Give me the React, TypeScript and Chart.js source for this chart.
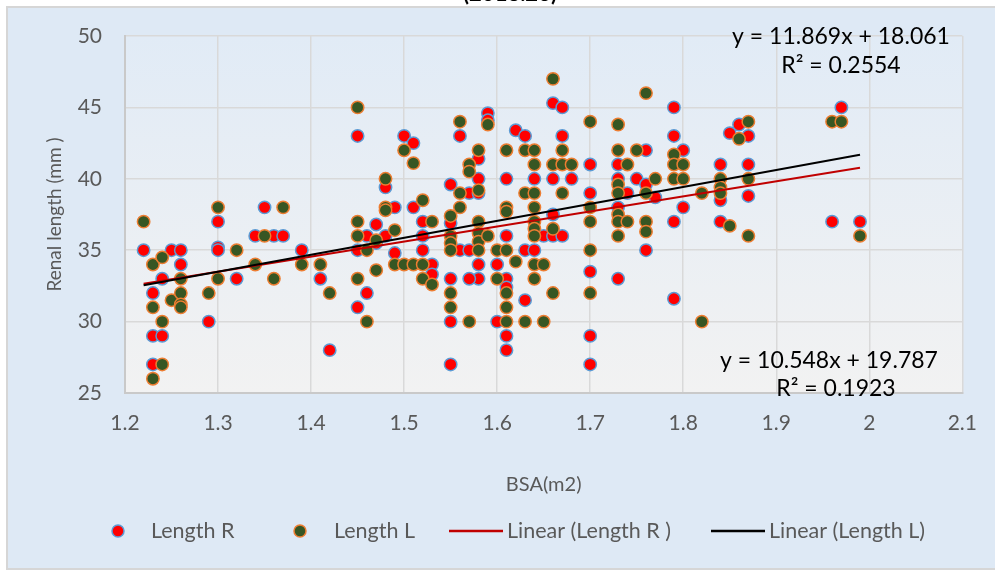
import React, { useEffect, useRef } from "react";
import { Chart, registerables } from "chart.js";

Chart.register(...registerables);

// ---------------- data ----------------
const bsaR = [
  1.22, 1.25, 1.26, 1.26, 1.24, 1.23, 1.23, 1.24, 1.23,
  1.3, 1.3, 1.3, 1.32, 1.35, 1.34, 1.36, 1.37, 1.29, 1.39,
  1.41, 1.42, 1.45, 1.45, 1.46, 1.46, 1.45, 1.47, 1.47, 1.48, 1.48, 1.49, 1.49,
  1.53, 1.5, 1.51, 1.51, 1.52, 1.52, 1.52, 1.53,
  1.55, 1.55, 1.56, 1.57, 1.56, 1.57, 1.58, 1.58, 1.58, 1.59, 1.59, 1.58, 1.58, 1.57, 1.55, 1.55, 1.55,
  1.61, 1.61, 1.6, 1.61, 1.61, 1.6, 1.61, 1.61, 1.62, 1.63, 1.64, 1.65, 1.66, 1.67, 1.66, 1.63, 1.64, 1.63,
  1.66, 1.67, 1.67, 1.66, 1.68, 1.7, 1.7, 1.7, 1.7, 1.7,
  1.79, 1.79, 1.76, 1.8, 1.73, 1.73, 1.75, 1.76, 1.74, 1.77, 1.73, 1.8, 1.79, 1.76, 1.73, 1.79,
  1.84, 1.87, 1.84, 1.84, 1.87, 1.85, 1.86, 1.87,
  1.97, 1.96, 1.99,
];
const lengthR = [
  35, 35, 35, 34, 33, 32, 29, 29, 27,
  37, 35.2, 35, 33, 38, 36, 36, 36, 30, 35,
  33, 28, 43, 35, 36, 32, 31, 36.8, 35.5, 36, 39.4, 38, 34.8,
  34, 43, 42.5, 38, 37, 36, 35, 33.3,
  39.6, 36.9, 35, 35, 43, 39, 41.4, 40, 39, 44.6, 44.1, 34, 33, 33, 33, 30, 27,
  40, 36, 34, 33, 32.4, 30, 29, 28, 43.4, 43, 40, 36, 36, 36, 37.5, 35, 35, 31.5,
  45.3, 45, 43, 40, 40, 41, 39, 33.5, 29, 27,
  45, 43, 42, 42, 41, 40, 40, 39.6, 39, 38.7, 38, 38, 37, 35, 33, 31.6,
  41, 41, 38.5, 37, 38.8, 43.2, 43.8, 43,
  45, 37, 37,
];

const bsaL = [
  1.22, 1.23, 1.24, 1.26, 1.23, 1.25, 1.26, 1.26, 1.26, 1.24, 1.24, 1.23,
  1.3, 1.3, 1.32, 1.37, 1.35, 1.34, 1.36, 1.29, 1.39,
  1.41, 1.42, 1.45, 1.45, 1.45, 1.46, 1.45, 1.46, 1.47, 1.47, 1.48, 1.48, 1.48, 1.49,
  1.49, 1.5, 1.51, 1.52, 1.5, 1.51, 1.52, 1.53, 1.52, 1.53,
  1.56, 1.55, 1.55, 1.55, 1.55, 1.56, 1.55, 1.55, 1.57, 1.56,
  1.57, 1.57, 1.58, 1.58, 1.59, 1.58, 1.58, 1.58, 1.58, 1.59,
  1.61, 1.61, 1.61, 1.6, 1.61, 1.6, 1.61, 1.61, 1.61,
  1.63, 1.64, 1.64, 1.63, 1.64, 1.64, 1.64, 1.64, 1.64, 1.66, 1.62, 1.64, 1.65, 1.64, 1.63, 1.65,
  1.66, 1.67, 1.66, 1.67, 1.68, 1.67, 1.66,
  1.7, 1.7, 1.7, 1.7, 1.7,
  1.76, 1.73, 1.73, 1.75, 1.79, 1.79, 1.8, 1.74, 1.73, 1.73, 1.77, 1.76, 1.79, 1.8, 1.73, 1.73, 1.74, 1.73, 1.76, 1.76, 1.82, 1.82,
  1.84, 1.84, 1.84, 1.85, 1.87, 1.87, 1.86, 1.87,
  1.96, 1.97, 1.99,
];
const lengthL = [
  37, 34, 34.5, 33, 31, 31.5, 32, 31.2, 31, 30, 27, 26,
  38, 33, 35, 38, 36, 34, 33, 32, 34,
  34, 32, 45, 37, 36, 35, 33, 30, 35.7, 33.6, 40, 38, 37.8, 36.4,
  34, 34, 34, 34, 42, 41.1, 38.5, 37, 33, 32.6,
  39, 37.4, 36, 35.5, 35, 38, 32, 31, 30, 44,
  41, 40.5, 42, 39.2, 43.8, 37, 36.2, 35.6, 35, 36,
  42, 38, 37.7, 35, 35, 33, 32, 31, 30,
  42, 42, 41, 39, 39, 38, 37, 36.5, 36, 36.5, 34.2, 34, 34, 33, 30, 30,
  47, 42, 41, 41, 41, 39, 32,
  44, 38, 37, 35, 32,
  46, 43.8, 42, 42, 41.7, 41, 41, 41, 39.6, 39, 40, 39, 40, 40, 37.5, 37, 37, 36, 37, 36.3, 30, 39,
  40, 39.4, 39, 36.7, 40, 36, 42.8, 44,
  44, 44, 36,
];

// Excel linear trendlines (as printed on the chart)
const trendR = { slope: 10.548, intercept: 19.787, r2: 0.1923 };
const trendL = { slope: 11.869, intercept: 18.061, r2: 0.2554 };

const seriesNames = ["Length R", "Length L", "Linear (Length R )", "Linear (Length L)"];
const xTitle = "BSA(m2)";
const yTitle = "Renal length (mm )";
const chartTitle = "(2018.23)";
const xMin = 1.2;
const xMax = 2.1;
const xStep = 0.1;
const yMin = 25;
const yMax = 50;
const yStep = 5;

const FONT = "Lato, 'Open Sans', sans-serif";
const TEXT_GREY = "#595959";

function trendPoints(xs: number[], t: { slope: number; intercept: number }) {
  const lo = Math.min(...xs);
  const hi = Math.max(...xs);
  return [
    { x: lo, y: t.slope * lo + t.intercept },
    { x: hi, y: t.slope * hi + t.intercept },
  ];
}

const decorPlugin = {
  id: "decor",
  beforeDraw(chart: any) {
    const { ctx, chartArea, width, height } = chart;
    ctx.save();
    ctx.fillStyle = "#ffffff";
    ctx.fillRect(0, 0, width, height);
    // outer chart box
    ctx.fillStyle = "#dee9f5";
    ctx.fillRect(7, 7, width, 562);
    ctx.strokeStyle = "#d6d6d6";
    ctx.lineWidth = 2;
    ctx.strokeRect(7, 7, width + 10, 562);
    // plot area gradient
    const g = ctx.createLinearGradient(0, chartArea.top, 0, chartArea.bottom);
    g.addColorStop(0, "#e1ebf6");
    g.addColorStop(1, "#f2f2f2");
    ctx.fillStyle = g;
    ctx.fillRect(chartArea.left, chartArea.top, chartArea.right - chartArea.left, chartArea.bottom - chartArea.top);
    // cut-off title at the very top
    ctx.fillStyle = "#000000";
    ctx.font = `bold 22px ${FONT}`;
    ctx.textAlign = "center";
    ctx.textBaseline = "alphabetic";
    ctx.fillText(chartTitle, 510, 1);
    ctx.restore();
  },
  afterDraw(chart: any) {
    const { ctx } = chart;
    const ds = chart.data.datasets;
    ctx.save();
    // trendline equations
    ctx.fillStyle = "#000000";
    ctx.font = `23px ${FONT}`;
    ctx.textAlign = "center";
    ctx.textBaseline = "middle";
    const eq = (t: any) => `y = ${t.slope.toFixed(3)}x + ${t.intercept.toFixed(3)}`;
    const r2 = (t: any) => `R\u00b2 = ${t.r2.toFixed(4)}`;
    ctx.fillText(eq(trendL), 841, 37);
    ctx.fillText(r2(trendL), 841, 66);
    ctx.fillText(eq(trendR), 829, 361);
    ctx.fillText(r2(trendR), 836, 389);

    // legend
    const ly = 531;
    ctx.font = `21.5px ${FONT}`;
    ctx.textAlign = "left";
    const marker = (x: number, d: any) => {
      ctx.beginPath();
      ctx.arc(x, ly, 6, 0, Math.PI * 2);
      ctx.fillStyle = d.backgroundColor;
      ctx.fill();
      ctx.lineWidth = 1.5;
      ctx.strokeStyle = d.borderColor;
      ctx.stroke();
    };
    const lineMark = (x1: number, x2: number, d: any) => {
      ctx.beginPath();
      ctx.moveTo(x1, ly);
      ctx.lineTo(x2, ly);
      ctx.lineWidth = 2.5;
      ctx.strokeStyle = d.borderColor;
      ctx.stroke();
    };
    marker(118, ds[0]);
    marker(300, ds[1]);
    lineMark(449, 503, ds[2]);
    lineMark(711, 765, ds[3]);
    ctx.fillStyle = TEXT_GREY;
    ctx.fillText(ds[0].label, 151, ly);
    ctx.fillText(ds[1].label, 334, ly);
    ctx.fillText(ds[2].label, 507, ly);
    ctx.fillText(ds[3].label, 769, ly);
    ctx.restore();
  },
};

export default function App() {
  const ref = useRef<HTMLCanvasElement | null>(null);
  useEffect(() => {
    if (!ref.current) return;
    const chart = new Chart(ref.current, {
      type: "scatter",
      data: {
        datasets: [
          {
            label: seriesNames[0],
            data: bsaR.map((x, i) => ({ x, y: lengthR[i] })),
            backgroundColor: "#ff0000",
            borderColor: "#5b9bd5",
            borderWidth: 1.5,
            pointRadius: 6.2,
            order: 3,
          },
          {
            label: seriesNames[1],
            data: bsaL.map((x, i) => ({ x, y: lengthL[i] })),
            backgroundColor: "#375623",
            borderColor: "#ed7d31",
            borderWidth: 1.5,
            pointRadius: 6.2,
            order: 2,
          },
          {
            label: seriesNames[2],
            type: "line",
            data: trendPoints(bsaR, trendR),
            borderColor: "#c00000",
            backgroundColor: "#c00000",
            borderWidth: 2,
            pointRadius: 0,
            fill: false,
            order: 1,
          },
          {
            label: seriesNames[3],
            type: "line",
            data: trendPoints(bsaL, trendL),
            borderColor: "#000000",
            backgroundColor: "#000000",
            borderWidth: 2,
            pointRadius: 0,
            fill: false,
            order: 0,
          },
        ] as any,
      },
      options: {
        responsive: false,
        animation: false,
        devicePixelRatio: 1,
        layout: { padding: { left: 0, right: 32, top: 36, bottom: 0 } },
        plugins: {
          legend: { display: false },
          tooltip: { enabled: false },
        },
        scales: {
          x: {
            type: "linear",
            min: xMin,
            max: xMax,
            afterFit: (s: any) => {
              s.height = 571 - 393;
            },
            ticks: {
              stepSize: xStep,
              color: TEXT_GREY,
              padding: 18,
              font: { family: FONT, size: 21 },
              callback: (v: any) => String(Math.round(Number(v) * 10) / 10),
            },
            grid: { color: "#d9d9d9", lineWidth: 1.5, drawTicks: false },
            border: { color: "#c9c9c9", width: 2 },
            title: {
              display: true,
              text: xTitle,
              color: TEXT_GREY,
              font: { family: FONT, size: 20 },
              padding: { top: 0, bottom: 74 },
            },
          },
          y: {
            type: "linear",
            min: yMin,
            max: yMax,
            afterFit: (s: any) => {
              s.width = 125;
            },
            ticks: {
              stepSize: yStep,
              color: TEXT_GREY,
              padding: 23,
              font: { family: FONT, size: 21 },
            },
            grid: { color: "#d9d9d9", lineWidth: 1.5, drawTicks: false },
            border: { color: "#c9c9c9", width: 2 },
            title: {
              display: true,
              text: yTitle,
              color: TEXT_GREY,
              font: { family: FONT, size: 19 },
              padding: { top: 43, bottom: 0 },
            },
          },
        },
      } as any,
      plugins: [decorPlugin],
    });
    return () => chart.destroy();
  }, []);
  return (
    <div style={{ position: "fixed", left: 0, top: 0, width: 995, height: 571 }}>
      <canvas ref={ref} width={995} height={571} style={{ display: "block" }} />
    </div>
  );
}
